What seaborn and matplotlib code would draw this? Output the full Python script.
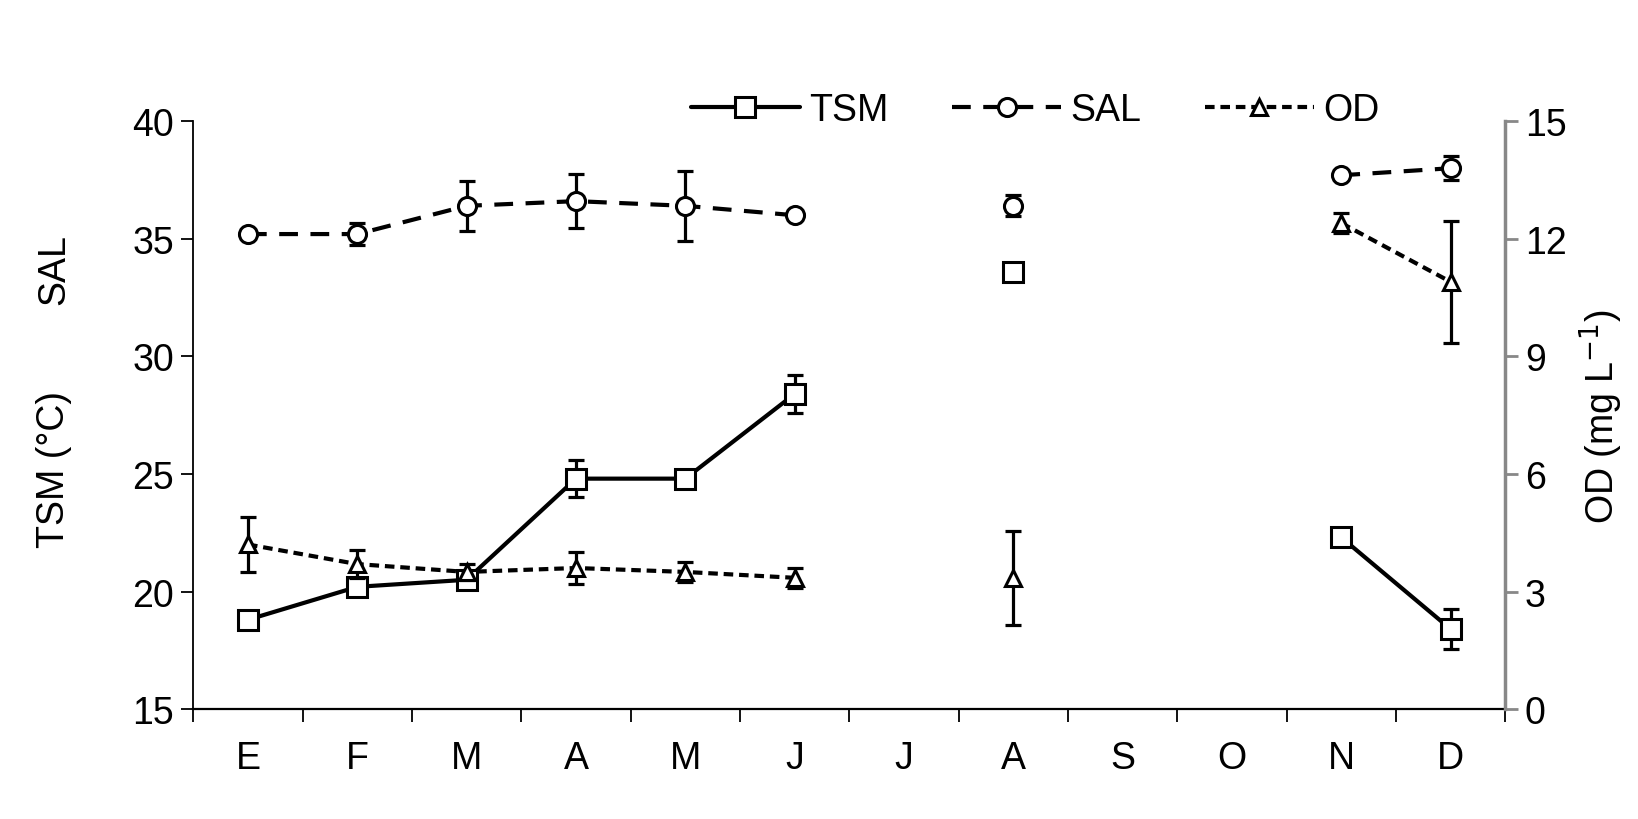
import numpy as np
import pandas as pd
import matplotlib
matplotlib.use("Agg")
import matplotlib.pyplot as plt
import seaborn as sns

nan = np.nan

# monthly means and standard deviations (Jul, Sep, Oct not sampled)
months = ["E", "F", "M", "A", "M", "J", "J", "A", "S", "O", "N", "D"]
tsm = [18.8, 20.2, 20.5, 24.8, 24.8, 28.4, nan, 33.6, nan, nan, 22.3, 18.4]
tsm_err = [0, 0.2, 0.35, 0.8, 0, 0.8, nan, 0, nan, nan, 0, 0.85]
sal = [35.2, 35.2, 36.4, 36.6, 36.4, 36.0, nan, 36.4, nan, nan, 37.7, 38.0]
sal_err = [0, 0.45, 1.05, 1.15, 1.5, 0, nan, 0.45, nan, nan, 0, 0.5]
od = [4.2, 3.7, 3.5, 3.6, 3.5, 3.35, nan, 3.35, nan, nan, 12.4, 10.9]
od_err = [0.7, 0.35, 0.2, 0.4, 0.25, 0.25, nan, 1.2, nan, nan, 0.25, 1.55]

sns.set_theme(style="white")
plt.rcParams["font.family"] = ["Liberation Sans", "DejaVu Sans"]
for key in ("text.color", "axes.labelcolor", "xtick.color", "ytick.color"):
    plt.rcParams[key] = "black"

FS = 27

df = pd.DataFrame({"x": np.arange(len(months)), "tsm": tsm, "tsm_err": tsm_err,
                   "sal": sal, "sal_err": sal_err, "od": od, "od_err": od_err})


def draw_series(ax, col, label, marker, ms, ls):
    """Plot runs of consecutive months, breaking the line at missing data"""
    grp = df[col].isna().cumsum()
    first = True
    for _, run in df[df[col].notna()].groupby(grp[df[col].notna()]):
        sns.lineplot(data=run, x="x", y=col, ax=ax, color="black", lw=3.0,
                     linestyle=ls, marker=marker, markersize=ms,
                     markerfacecolor="white", markeredgecolor="black",
                     markeredgewidth=2.2, label=label if first else None,
                     legend=False, zorder=3)
        first = False
    err = df[df[col + "_err"] > 0]
    ax.errorbar(err["x"], err[col], yerr=err[col + "_err"], fmt="none",
                ecolor="black", elinewidth=2.3, capsize=6, capthick=2.3, zorder=2)


fig, ax = plt.subplots(figsize=(16.38, 8.2), dpi=100)
fig.subplots_adjust(left=0.118, right=0.919, bottom=0.134, top=0.851)
ax2 = ax.twinx()

draw_series(ax, "tsm", "TSM", "s", 15, "-")
draw_series(ax, "sal", "SAL", "o", 13, (0, (4.5, 3)))
draw_series(ax2, "od", "OD", "^", 11, (0, (2.3, 1.4)))

ax.set_xlim(-0.5, 11.5)
ax.set_ylim(15, 40)
ax2.set_ylim(0, 15)
ax.set_yticks(range(15, 41, 5))
ax2.set_yticks(range(0, 16, 3))
ax.set_xticks(df["x"])
ax.set_xticklabels(months)
ax.set_xticks(np.arange(-0.5, 12, 1), minor=True)
ax.tick_params(axis="x", which="major", length=0, pad=22, labelsize=FS)
ax.tick_params(axis="x", which="minor", length=9, width=1.3, color="black", bottom=True)
ax.tick_params(axis="y", length=9, width=1.3, color="black", left=True, labelsize=FS, pad=5)
ax2.tick_params(axis="y", length=9, width=2, color="#888888", right=True, labelsize=FS, pad=5)
ax.set_xlabel("")
ax.set_ylabel("")
ax2.set_xlabel("")
ax2.set_ylabel("OD (mg L$^{-1}$)", fontsize=FS, labelpad=8)

for a in (ax, ax2):
    a.spines["top"].set_visible(False)
ax.spines["right"].set_visible(False)
ax.spines["left"].set_color("black")
ax.spines["bottom"].set_color("black")
ax.spines["left"].set_linewidth(1.3)
ax.spines["bottom"].set_linewidth(1.6)
ax2.spines["left"].set_visible(False)
ax2.spines["bottom"].set_visible(False)
ax2.spines["right"].set_color("#888888")
ax2.spines["right"].set_linewidth(2.5)

fig.text(0.033, 0.671, "SAL", rotation=90, fontsize=FS, ha="center", va="center")
fig.text(0.033, 0.427, "TSM (°C)", rotation=90, fontsize=FS, ha="center", va="center")

h1, l1 = ax.get_legend_handles_labels()
h2, l2 = ax2.get_legend_handles_labels()
fig.legend(h1 + h2, l1 + l2, loc="center", bbox_to_anchor=(0.632, 0.865), ncol=3,
           frameon=False, fontsize=FS, handlelength=2.9, columnspacing=1.7,
           handletextpad=0.25)

fig.savefig("out.png", dpi=100)
